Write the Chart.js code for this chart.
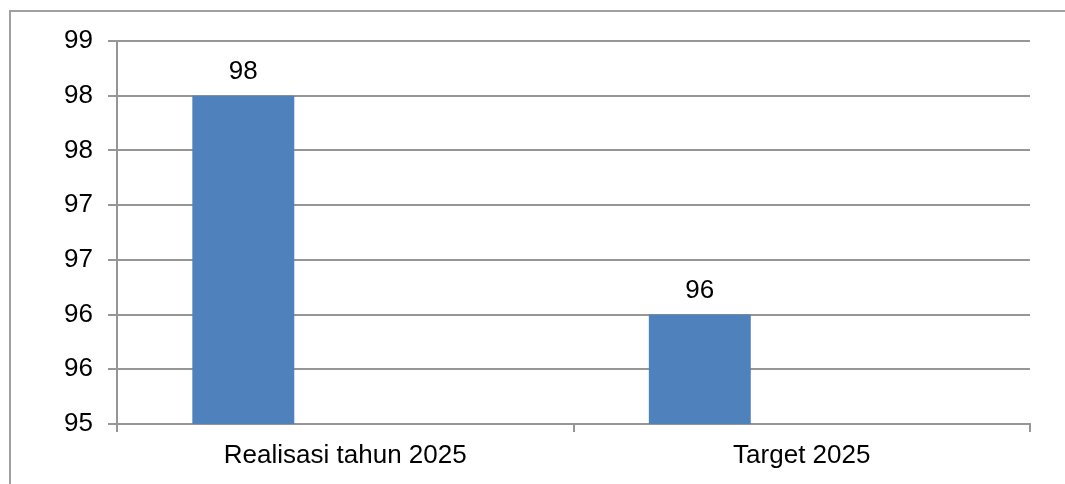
<!DOCTYPE html>
<html>
<head>
<meta charset="utf-8">
<script src="https://cdn.jsdelivr.net/npm/chart.js@4/dist/chart.umd.min.js"></script>
<style>
  html, body { margin: 0; padding: 0; background: #fff; overflow: hidden; }
  #wrap { position: relative; width: 1065px; height: 484px; }
  #frame { position: absolute; left: 9px; top: 10px; width: 1100px; height: 600px; border: 2px solid #a0a0a0; }
  canvas { position: absolute; left: 0; top: 0; }
</style>
</head>
<body>
<div id="wrap">
  <div id="frame"></div>
  <canvas id="grafik" width="1065" height="484"></canvas>
</div>
<script>
var kategori = ["Realisasi tahun 2025", "Target 2025"]
var nilai = [98, 96]
// Excel cluster with two empty series (keeps bars off-centre)
var kosong1 = [null, null]
var kosong2 = [null, null]
var yMin = 95
var yMax = 98.5
var yStep = 0.5

var garis = "#969696"
var huruf = "'Liberation Sans', Arial, sans-serif"
var ukuran = 26

var labelPlugin = {
  id: "labelNilai",
  afterDatasetsDraw: function (chart) {
    var ctx = chart.ctx
    var meta = chart.getDatasetMeta(0)
    ctx.save()
    ctx.fillStyle = "#000"
    ctx.font = ukuran + "px " + huruf
    ctx.textAlign = "center"
    ctx.textBaseline = "alphabetic"
    meta.data.forEach(function (bar, i) {
      ctx.fillText(String(nilai[i]), bar.x, bar.y - 17)
    })
    ctx.restore()
  }
}

var config = {
  type: "bar",
  data: {
    labels: kategori,
    datasets: [
      { label: "Series1", data: nilai, backgroundColor: "#4f81bd" },
      { label: "Series2", data: kosong1, backgroundColor: "#c0504d" },
      { label: "Series3", data: kosong2, backgroundColor: "#9bbb59" }
    ]
  },
  options: {
    responsive: false,
    animation: false,
    categoryPercentage: 0.67,
    barPercentage: 1.0,
    layout: { padding: { left: 0, right: 35, top: 41, bottom: 0 } },
    plugins: {
      legend: { display: false },
      tooltip: { enabled: false }
    },
    scales: {
      x: {
        grid: {
          offset: true,
          drawOnChartArea: false,
          drawTicks: true,
          tickLength: 8,
          color: garis,
          lineWidth: 2
        },
        border: { display: true, color: garis, width: 2 },
        ticks: {
          color: "#000",
          font: { family: huruf, size: ukuran },
          padding: 8,
          maxRotation: 0
        },
        afterFit: function (scale) { scale.height = 60 }
      },
      y: {
        min: yMin,
        max: yMax,
        grid: {
          color: garis,
          lineWidth: 2,
          drawTicks: true,
          tickLength: 9
        },
        border: { display: true, color: garis, width: 2 },
        ticks: {
          stepSize: yStep,
          color: "#000",
          font: { family: huruf, size: ukuran },
          padding: 15,
          callback: function (v) { return Math.round(v) }
        },
        afterFit: function (scale) { scale.width = 117 }
      }
    }
  },
  plugins: [labelPlugin]
}

var grafik = new Chart(document.getElementById("grafik"), config)
</script>
</body>
</html>
